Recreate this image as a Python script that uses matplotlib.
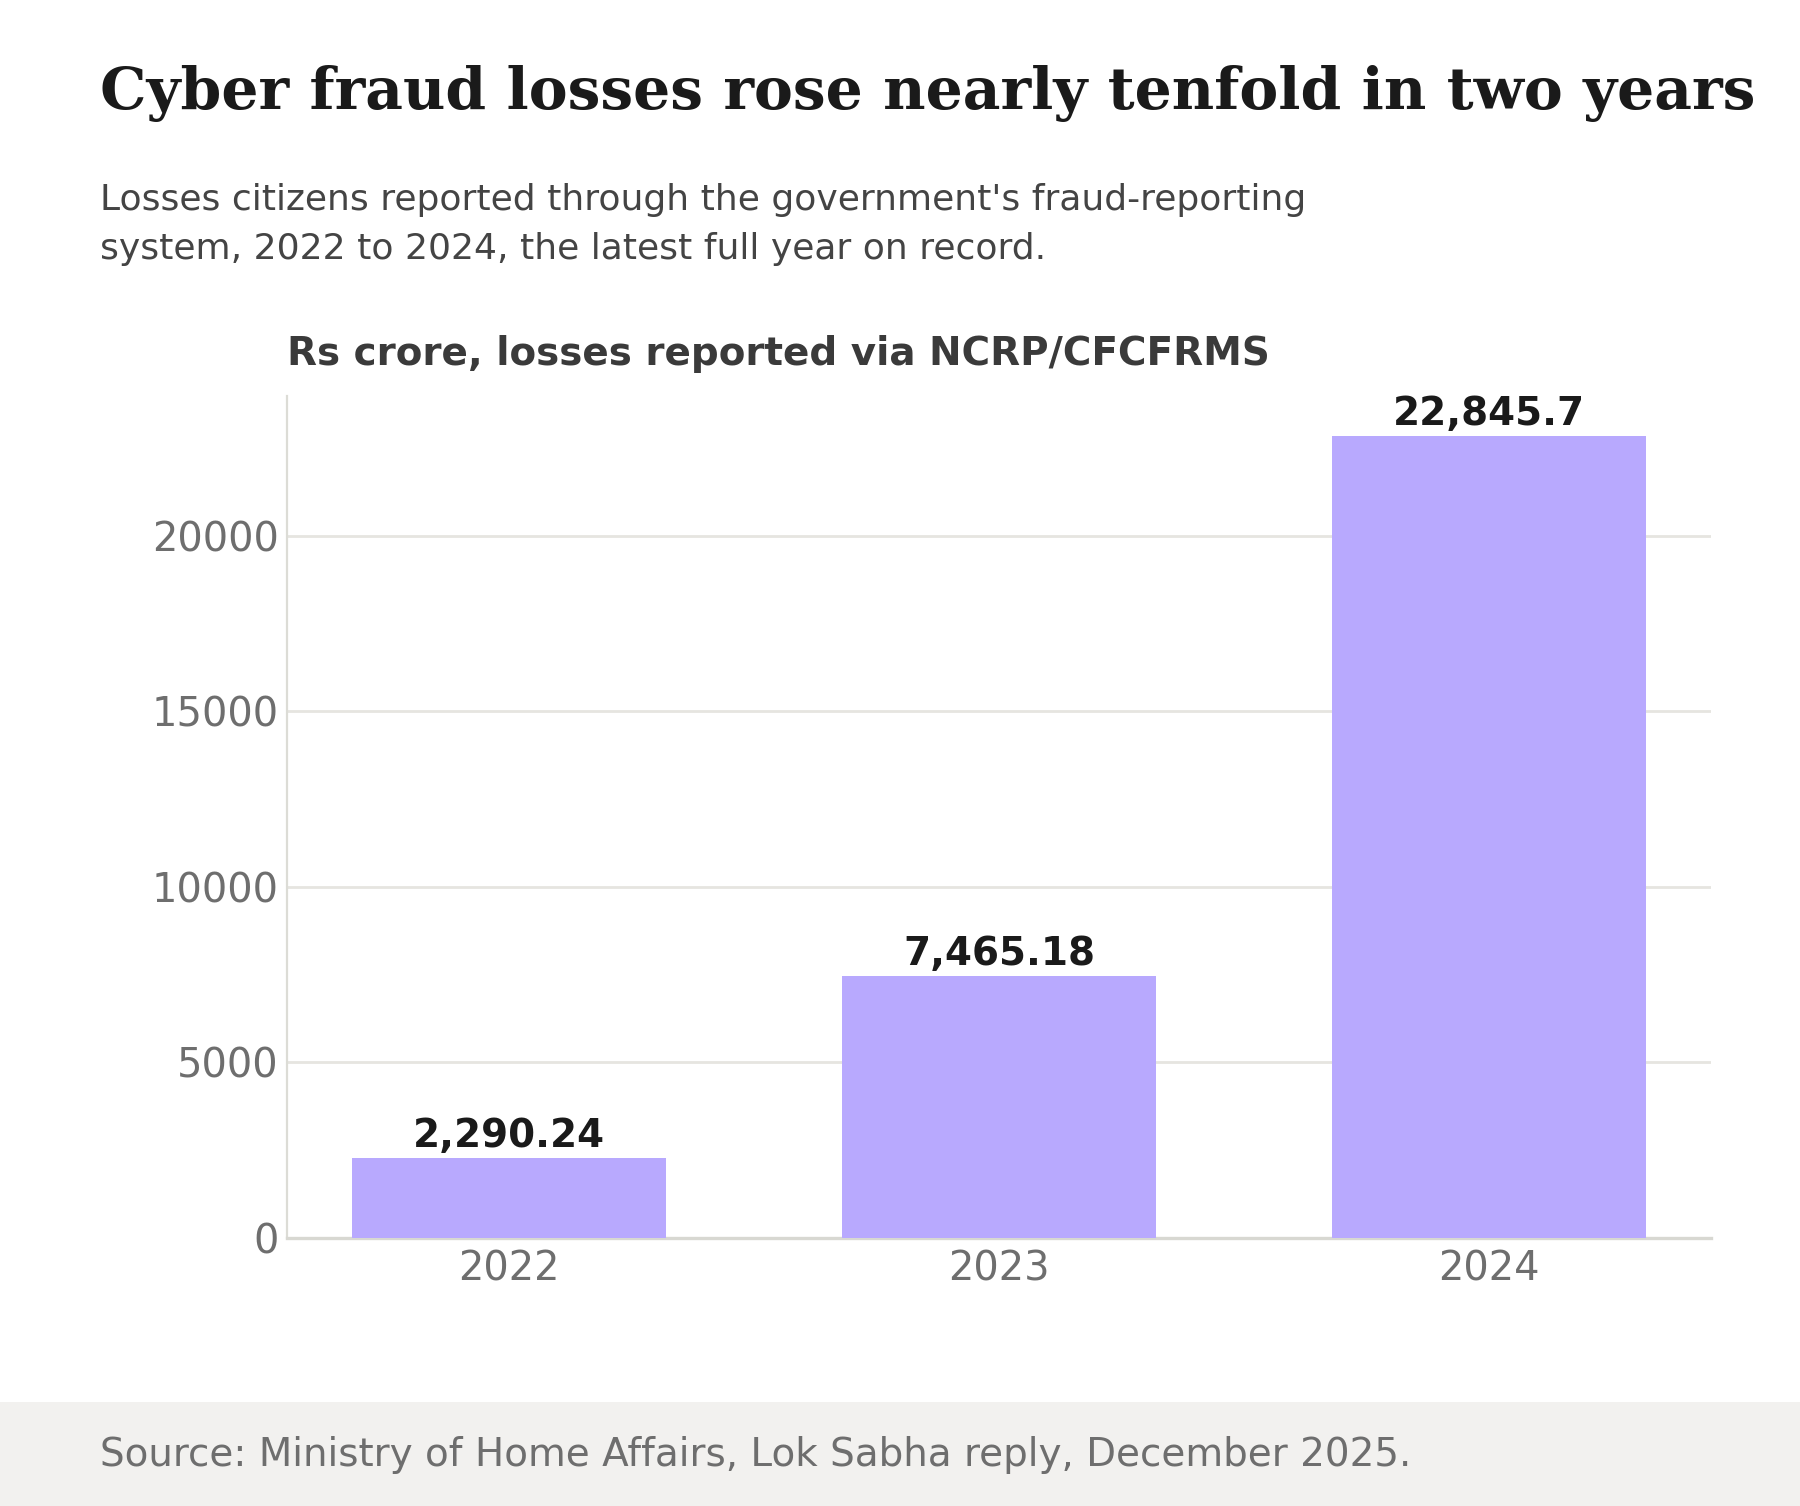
import matplotlib.pyplot as plt
from matplotlib.patches import Rectangle

# Data
years = ['2022', '2023', '2024']
losses = [2290.24, 7465.18, 22845.7]
value_labels = ['2,290.24', '7,465.18', '22,845.7']

title = 'Cyber fraud losses rose nearly tenfold in two years'
subtitle = ("Losses citizens reported through the government's fraud-reporting\n"
            "system, 2022 to 2024, the latest full year on record.")
axis_title = 'Rs crore, losses reported via NCRP/CFCFRMS'
source = 'Source: Ministry of Home Affairs, Lok Sabha reply, December 2025.'

W, H = 1800, 1506
fig = plt.figure(figsize=(W / 200, H / 200), dpi=200)
fig.patch.set_facecolor('white')

# footer band
fig.patches.append(Rectangle((0, 0), 1, 1 - 1402 / H, transform=fig.transFigure,
                             facecolor='#f2f1ef', edgecolor='none', zorder=0))

ax = fig.add_axes([287 / W, 1 - 1238 / H, (1711 - 287) / W, (1238 - 396) / H])
x = range(len(years))
bars = ax.bar(x, losses, width=0.64, color='#b8a9fe', zorder=3)
ax.set_ylim(0, max(losses) * 1.05)
ax.set_xticks(list(x))
ax.set_xticklabels(years)
ax.set_yticks([0, 5000, 10000, 15000, 20000])

ax.yaxis.grid(True, color='#e6e5e0', linewidth=1.0, zorder=0)
ax.set_axisbelow(True)
for s in ['top', 'right']:
    ax.spines[s].set_visible(False)
ax.spines['left'].set_color('#dcdcd6')
ax.spines['bottom'].set_color('#d8d8d2')
ax.spines['bottom'].set_linewidth(1.2)
ax.tick_params(axis='both', length=0, labelsize=14.4, colors='#6e6e6e')
ax.tick_params(axis='y', pad=3)
ax.tick_params(axis='x', pad=4)

for b, lab in zip(bars, value_labels):
    ax.annotate(lab, (b.get_x() + b.get_width() / 2, b.get_height()),
                xytext=(0, 1), textcoords='offset points', ha='center', va='bottom',
                fontsize=14, fontweight='bold', color='#1a1a1a')

fig.text(100 / W, 1 - 109 / H, title, fontsize=21, fontweight='bold',
         family='DejaVu Serif', color='#1a1a1a', va='baseline')
fig.text(100 / W, 1 - 259 / H, subtitle, fontsize=13, color='#444444',
         va='baseline', linespacing=1.55)
fig.text(287 / W, 1 - 365 / H, axis_title, fontsize=14, fontweight='bold',
         color='#3a3a3a', va='baseline')
fig.text(100 / W, 1 - 1466 / H, source, fontsize=14, color='#6e6e6e',
         va='baseline')

fig.savefig('out.png', dpi=200)
